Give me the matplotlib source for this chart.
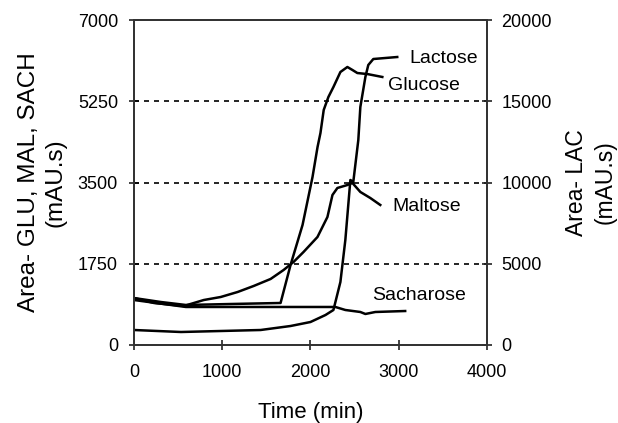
import numpy as np
import matplotlib
matplotlib.use('Agg')
import matplotlib.pyplot as plt

plt.rcParams['font.family'] = ['Liberation Sans', 'DejaVu Sans']

# данные (время, мин; площадь, mAU.s)
glu_t = [0, 305, 588, 1096, 1661, 1774, 1910, 2023, 2080, 2113, 2150, 2203, 2260, 2339, 2418, 2475, 2531, 2645, 2814]
glu_a = [1012, 926, 862, 883, 905, 1723, 2585, 3618, 4264, 4566, 5063, 5342, 5557, 5880, 5988, 5924, 5858, 5836, 5773]

mal_t = [0, 226, 565, 791, 983, 1175, 1356, 1548, 1695, 1808, 1921, 2079, 2192, 2249, 2305, 2418, 2475, 2565, 2678, 2791]
mal_a = [1012, 905, 840, 969, 1034, 1142, 1271, 1422, 1615, 1788, 2003, 2326, 2757, 3231, 3382, 3446, 3490, 3296, 3166, 3016]

sac_t = [0, 588, 2282, 2395, 2565, 2622, 2735, 3073]
sac_a = [969, 819, 819, 754, 711, 668, 711, 732]

lac_t = [0, 532, 1435, 1774, 2000, 2170, 2260, 2339, 2395, 2452, 2485, 2542, 2565, 2622, 2655, 2712, 2983]
lac_a = [923, 800, 923, 1169, 1415, 1846, 2154, 3877, 6462, 10154, 10031, 12615, 14646, 16492, 17231, 17600, 17723]

fig = plt.figure(figsize=(6.18, 4.23), dpi=100)
ax = fig.add_axes([0.2168, 0.1844, 0.5712, 0.7683])
ax2 = ax.twinx()

for y in [1750, 3500, 5250]:
    ax.axhline(y, color='black', linestyle=(0, (3, 3)), linewidth=1.2)

ax.plot(glu_t, glu_a, color='black', linewidth=1.8)
ax.plot(mal_t, mal_a, color='black', linewidth=1.8)
ax.plot(sac_t, sac_a, color='black', linewidth=1.8)
ax2.plot(lac_t, lac_a, color='black', linewidth=1.8)

ax.set_xlim(0, 4000)
ax.set_ylim(0, 7000)
ax2.set_ylim(0, 20000)
ax.set_xticks([0, 1000, 2000, 3000, 4000])
ax.set_yticks([0, 1750, 3500, 5250, 7000])
ax2.set_yticks([0, 5000, 10000, 15000, 20000])

for a in (ax, ax2):
    a.tick_params(direction='inout', length=7, width=1.2, labelsize=13, color='#222222')
    for s in a.spines.values():
        s.set_linewidth(1.3)
        s.set_color('#333333')
ax.tick_params(axis='y', pad=8)
ax.tick_params(axis='x', pad=10)
ax2.tick_params(axis='y', pad=7)

ax.set_xlabel('Time (min)', fontsize=16, labelpad=15)
ax.set_ylabel('Area- GLU, MAL, SACH\n(mAU.s)', fontsize=17.5, linespacing=1.3)
ax.yaxis.set_label_coords(-0.19, 0.5)
ax2.set_ylabel('Area- LAC\n(mAU.s)', fontsize=16.5, linespacing=1.3)
ax2.yaxis.set_label_coords(1.222, 0.5)

ax.text(3120, 6180, 'Lactose', fontsize=14, va='center')
ax.text(2880, 5600, 'Glucose', fontsize=14, va='center')
ax.text(2930, 2990, 'Maltose', fontsize=14, va='center')
ax.text(2700, 1060, 'Sacharose', fontsize=14, va='center')

fig.savefig('out.png', dpi=100)
